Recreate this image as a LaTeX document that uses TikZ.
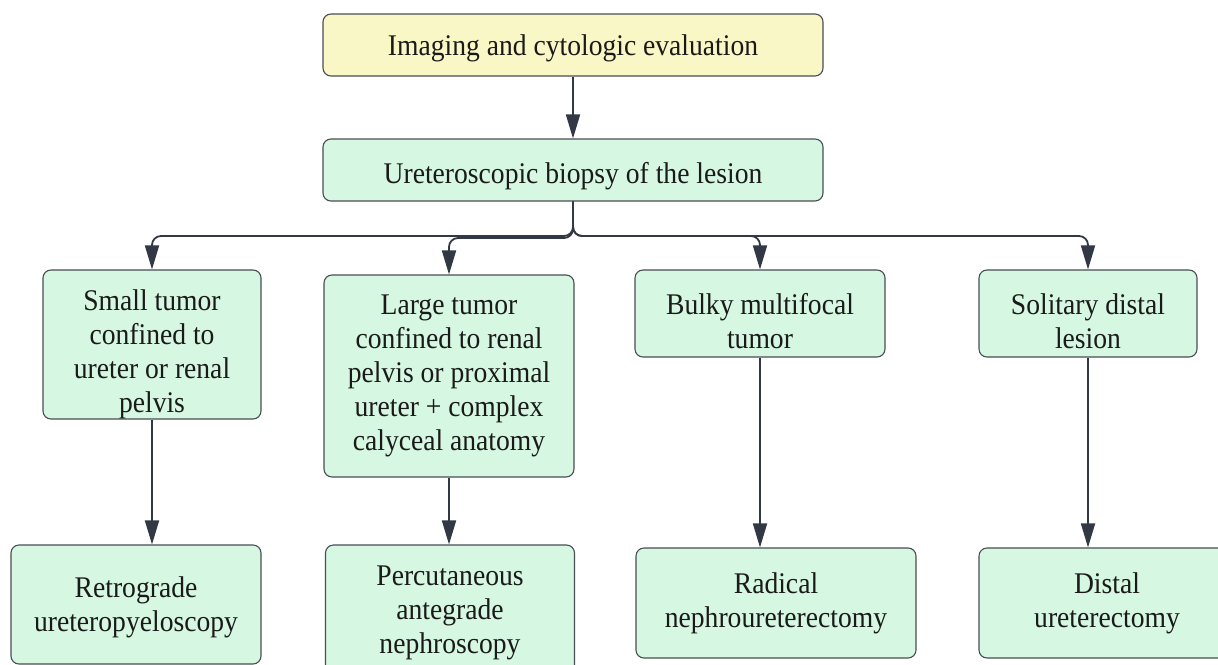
\documentclass[tikz,border=0pt]{standalone}
\usepackage{fontspec}
\setmainfont{Liberation Serif}[FakeStretch=0.92]
\usetikzlibrary{arrows.meta}
\definecolor{boxgreen}{HTML}{D6F7E1}
\definecolor{boxyellow}{HTML}{FAF7C6}
\definecolor{edgegrey}{HTML}{4A4E55}
\definecolor{conncol}{HTML}{323944}
\definecolor{txt}{HTML}{1A1A1A}
\begin{document}
\begin{tikzpicture}[x=1pt,y=-1pt,
  box/.style={draw=edgegrey, line width=1.1pt, rounded corners=8pt, fill=boxgreen,
    inner sep=0pt},
  ybox/.style={box, fill=boxyellow},
  lbl/.style={inner sep=0pt, align=center, text=txt,
    font=\fontsize{30}{34}\selectfont},
  conn/.style={draw=conncol, line width=1.8pt, -{Triangle[width=14pt,length=24pt]}, rounded corners=9pt}]
\useasboundingbox (0,0) rectangle (1218,664);
\clip (0,0) rectangle (1218,664);
\fill[white] (0,0) rectangle (1218,664);
% boxes
\node[ybox, minimum width=500pt, minimum height=62pt] (top) at (573,45) {};
\node[box, minimum width=500pt, minimum height=62pt] (bio) at (573,170) {};
\node[box, minimum width=218pt, minimum height=149pt] (a) at (152,344.5) {};
\node[box, minimum width=250pt, minimum height=202pt] (b) at (449,376) {};
\node[box, minimum width=250pt, minimum height=87pt] (c) at (760,313.5) {};
\node[box, minimum width=218pt, minimum height=87pt] (d) at (1088,313.5) {};
\node[box, minimum width=250pt, minimum height=119pt] (a3) at (136,604.5) {};
\node[box, minimum width=249pt, minimum height=136pt] (b3) at (450,613) {};
\node[box, minimum width=280pt, minimum height=110pt] (c3) at (776,603) {};
\node[box, minimum width=256pt, minimum height=110pt] (d3) at (1107,603) {};
% labels
\node[lbl, yshift=-3pt] (topt) at (top.center) {Imaging and cytologic evaluation};
\node[lbl, yshift=-6pt] (biot) at (bio.center) {Ureteroscopic biopsy of the lesion};
\node[lbl, yshift=-10pt] (at) at (a.center) {Small tumor\\confined to\\ureter or renal\\pelvis};
\node[lbl, yshift=0pt] (bt) at (b.center) {Large tumor\\confined to renal\\pelvis or proximal\\ureter + complex\\calyceal anatomy};
\node[lbl, yshift=-8pt] (ct) at (c.center) {Bulky multifocal\\tumor};
\node[lbl, yshift=-8pt] (dt) at (d.center) {Solitary distal\\lesion};
\node[lbl, yshift=-3pt] (a3t) at (a3.center) {Retrograde\\ureteropyeloscopy};
\node[lbl, yshift=0pt] (b3t) at (b3.center) {Percutaneous\\antegrade\\nephroscopy};
\node[lbl, yshift=0pt] (c3t) at (c3.center) {Radical\\nephroureterectomy};
\node[lbl, yshift=0pt] (d3t) at (d3.center) {Distal\\ureterectomy};
% connectors
\draw[conn] (top.south) -- (bio.north);
\coordinate (ja) at (152,236);
\coordinate (jb) at (449,238);
\coordinate (jc) at (760,236);
\coordinate (jd) at (1088,236);
\draw[conn] (bio.south) |- (ja) -- (a.north);
\draw[conn] (bio.south) |- (jb) -- (b.north);
\draw[conn] (bio.south) |- (jc) -- (c.north);
\draw[conn] (bio.south) |- (jd) -- (d.north);
\draw[conn] (a.south) -- (a.south |- a3.north);
\draw[conn] (b.south) -- (b.south |- b3.north);
\draw[conn] (c.south) -- (c.south |- c3.north);
\draw[conn] (d.south) -- (d.south |- d3.north);
\end{tikzpicture}
\end{document}
